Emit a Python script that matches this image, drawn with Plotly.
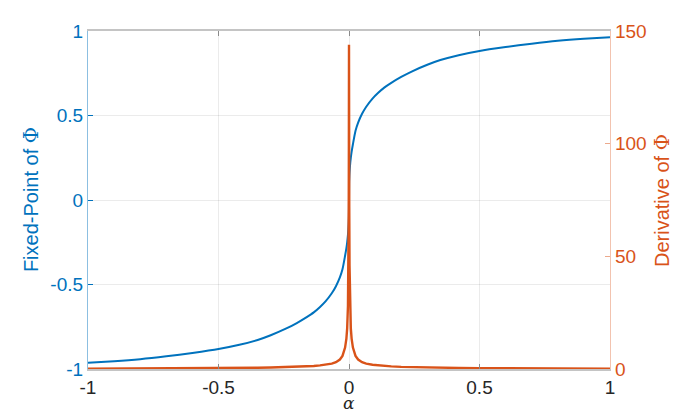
import plotly.graph_objects as go

# alpha samples (shared by both series)
alpha = [-1.0, -0.9, -0.8, -0.7, -0.6, -0.5, -0.42, -0.35, -0.3, -0.24, -0.2, -0.162,
         -0.135, -0.111, -0.09, -0.066, -0.05, -0.035, -0.025, -0.015, -0.01, -0.007,
         -0.004, -0.002, -0.001, -0.0005, 0.0,
         0.0005, 0.001, 0.002, 0.004, 0.007, 0.01, 0.015, 0.025, 0.035, 0.05, 0.066,
         0.09, 0.111, 0.135, 0.162, 0.2, 0.24, 0.3, 0.35, 0.42, 0.5, 0.6, 0.7, 0.8,
         0.9, 1.0]

# Fixed-point of Phi (left axis)
fixed_point = [-0.963, -0.954, -0.942, -0.925, -0.905, -0.882, -0.857, -0.828, -0.800,
               -0.760, -0.728, -0.693, -0.665, -0.633, -0.600, -0.552, -0.510, -0.458,
               -0.410, -0.330, -0.285, -0.250, -0.205, -0.160, -0.125, -0.100, 0.0,
               0.100, 0.125, 0.160, 0.205, 0.250, 0.285, 0.330, 0.410, 0.458, 0.510,
               0.552, 0.600, 0.633, 0.665, 0.693, 0.728, 0.760, 0.800, 0.828, 0.857,
               0.882, 0.905, 0.925, 0.942, 0.954, 0.963]

# Derivative of Phi (right axis)
derivative = [0.15, 0.17, 0.2, 0.25, 0.3, 0.38, 0.45, 0.55, 0.65, 0.8, 0.95, 1.15,
              1.35, 1.6, 1.9, 2.4, 3.0, 4.2, 5.8, 9.5, 13.5, 18.0, 28.0, 46.0, 72.0,
              100.0, 143.9,
              100.0, 72.0, 46.0, 28.0, 18.0, 13.5, 9.5, 5.8, 4.2, 3.0, 2.4, 1.9, 1.6,
              1.35, 1.15, 0.95, 0.8, 0.65, 0.55, 0.45, 0.38, 0.3, 0.25, 0.2, 0.17, 0.15]

x_ticks = [-1, -0.5, 0, 0.5, 1]
x_labels = ["-1", "-0.5", "0", "0.5", "1"]
yl_ticks = [-1, -0.5, 0, 0.5, 1]
yl_labels = ["-1", "-0.5", "0", "0.5", "1"]
yr_ticks = [0, 50, 100, 150]
yr_labels = ["0", "50", "100", "150"]

BLUE = "#0072BD"
ORANGE = "#D95319"
FONT = "Liberation Sans, Arial, sans-serif"
SERIF = "DejaVu Serif, serif"

fig = go.Figure()
fig.add_trace(go.Scatter(x=alpha, y=fixed_point, mode="lines",
                         line=dict(color=BLUE, width=2, shape="spline", smoothing=0.7),
                         yaxis="y", showlegend=False))
fig.add_trace(go.Scatter(x=alpha, y=derivative, mode="lines",
                         line=dict(color=ORANGE, width=2.4), yaxis="y2", showlegend=False))

grid = "rgba(38,38,38,0.09)"
fig.update_layout(
    width=674, height=416,
    margin=dict(l=88, r=64, t=31, b=47, autoexpand=False),
    paper_bgcolor="white", plot_bgcolor="white",
    font=dict(family=FONT, size=19, color="#262626"),
    xaxis=dict(range=[-1, 1], tickvals=x_ticks, ticktext=x_labels,
               showgrid=True, gridcolor=grid, gridwidth=1, zeroline=False,
               showline=True, linecolor="#c4c4c4", linewidth=1.5, mirror="ticks",
               ticks="inside", ticklen=5, tickcolor="#8a8a8a",
               tickfont=dict(family=FONT, size=19, color="#262626")),
    yaxis=dict(range=[-1, 1], tickvals=yl_ticks, ticktext=yl_labels,
               showgrid=True, gridcolor=grid, gridwidth=1, zeroline=False,
               showline=True, linecolor="rgba(0,114,189,0.45)", linewidth=1.2,
               ticks="inside", ticklen=5, tickcolor=BLUE,
               tickfont=dict(family=FONT, size=19, color=BLUE)),
    yaxis2=dict(range=[0, 150], tickvals=yr_ticks, ticktext=yr_labels,
                overlaying="y", side="right", showgrid=False, zeroline=False,
                showline=True, linecolor="rgba(217,83,25,0.35)", linewidth=1.2,
                ticks="inside", ticklen=5, tickcolor="rgba(217,83,25,0.5)",
                tickfont=dict(family=FONT, size=19, color=ORANGE)),
    annotations=[
        dict(text="Fixed-Point of <span style='font-family:DejaVu Serif'>Φ</span>",
             xref="paper", yref="paper", x=-0.109, y=0.5, textangle=-90,
             xanchor="center", yanchor="middle", showarrow=False,
             font=dict(family=FONT, size=20, color=BLUE)),
        dict(text="Derivative of <span style='font-family:DejaVu Serif'>Φ</span>",
             xref="paper", yref="paper", x=1.0996, y=0.5, textangle=-90,
             xanchor="center", yanchor="middle", showarrow=False,
             font=dict(family=FONT, size=20, color=ORANGE)),
        dict(text="<i>α</i>", xref="paper", yref="paper", x=0.5, y=-0.137,
             xanchor="center", yanchor="bottom", showarrow=False,
             font=dict(family=SERIF, size=17, color="#262626")),
    ],
)

fig.write_html("out.html", config={"displayModeBar": False})

# remove the browser's default page margin so the figure sits at (0, 0)
with open("out.html", "r", encoding="utf-8") as f:
    html = f.read()
html = html.replace("<head>", "<head><style>html,body{margin:0;padding:0;overflow:hidden;}</style>", 1)
with open("out.html", "w", encoding="utf-8") as f:
    f.write(html)
